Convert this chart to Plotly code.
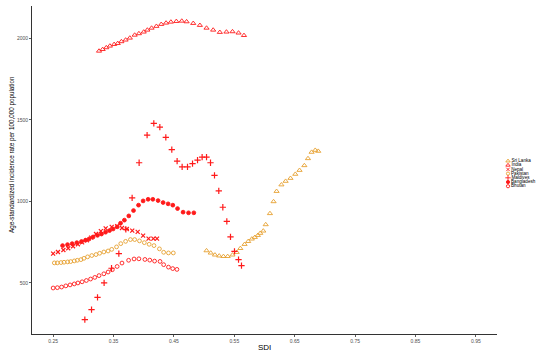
import plotly.graph_objects as go

# ---------------- data ----------------
countries = ["Sri Lanka", "India", "Nepal", "Pakistan", "Maldives", "Bangladesh", "Bhutan"]

sri_lanka_sdi = [0.504, 0.511, 0.518, 0.525, 0.532, 0.539, 0.547, 0.554, 0.560, 0.567,
                 0.573, 0.579, 0.584, 0.589, 0.593, 0.598, 0.602, 0.609, 0.615, 0.620,
                 0.628, 0.635, 0.643, 0.651, 0.658, 0.666, 0.672, 0.678, 0.684, 0.689]
sri_lanka_rate = [698, 684, 672, 666, 663, 663, 672, 688, 712, 737,
                  755, 770, 780, 792, 805, 819, 858, 926, 999, 1062,
                  1102, 1124, 1142, 1167, 1191, 1220, 1263, 1302, 1314, 1308]

india_sdi = [0.326, 0.332, 0.338, 0.344, 0.351, 0.357, 0.363, 0.370, 0.377, 0.385,
             0.392, 0.400, 0.406, 0.413, 0.421, 0.429, 0.437, 0.445, 0.454, 0.463,
             0.471, 0.482, 0.493, 0.504, 0.515, 0.526, 0.537, 0.547, 0.557, 0.566]
india_rate = [1922, 1932, 1943, 1953, 1963, 1969, 1980, 1990, 2002, 2020,
              2029, 2039, 2051, 2063, 2074, 2086, 2094, 2100, 2104, 2106,
              2102, 2092, 2080, 2063, 2051, 2037, 2039, 2041, 2033, 2018]

nepal_sdi = [0.250, 0.258, 0.267, 0.275, 0.283, 0.291, 0.298, 0.306, 0.313, 0.321, 0.329,
             0.337, 0.347, 0.356, 0.364, 0.372, 0.381, 0.390, 0.399, 0.408, 0.416, 0.422]
nepal_rate = [680, 690, 702, 713, 725, 737, 749, 762, 778, 800, 818,
              835, 844, 848, 837, 831, 821, 813, 790, 772, 772, 772]

pakistan_sdi = [0.252, 0.257, 0.263, 0.268, 0.274, 0.279, 0.285, 0.290, 0.296, 0.301,
                0.307, 0.314, 0.321, 0.327, 0.334, 0.341, 0.347, 0.355, 0.362, 0.370,
                0.378, 0.385, 0.393, 0.401, 0.409, 0.417, 0.426, 0.433, 0.441, 0.449]
pakistan_rate = [623, 623, 625, 627, 629, 631, 635, 639, 643, 651,
                 660, 668, 674, 682, 690, 696, 706, 721, 741, 755,
                 766, 766, 758, 747, 737, 729, 709, 688, 684, 684]

maldives_sdi = [0.3025, 0.3136, 0.3235, 0.3344, 0.3467, 0.3588, 0.3704, 0.3808, 0.3924, 0.4056,
                0.4167, 0.4267, 0.4366, 0.4465, 0.4553, 0.4636, 0.4725, 0.4808, 0.4891, 0.4967,
                0.5040, 0.5106, 0.5172, 0.5243, 0.5310, 0.5376, 0.5437, 0.5503, 0.5570, 0.5619]
maldives_rate = [275, 336, 412, 500, 590, 680, 828, 1022, 1237, 1406,
                 1478, 1455, 1392, 1317, 1247, 1212, 1212, 1232, 1253, 1271,
                 1271, 1237, 1159, 1065, 964, 878, 782, 694, 643, 606]

bangladesh_sdi = [0.2656, 0.2738, 0.2815, 0.2892, 0.2970, 0.3036, 0.3096, 0.3162, 0.3235, 0.3301,
                  0.3368, 0.3434, 0.3493, 0.3560, 0.3616, 0.3680, 0.3753, 0.3831, 0.3914, 0.3990,
                  0.4073, 0.4151, 0.4238, 0.4321, 0.4404, 0.4482, 0.4560, 0.4652, 0.4742, 0.4830]
bangladesh_rate = [729, 735, 741, 747, 754, 762, 770, 782, 792, 800,
                   811, 821, 831, 844, 866, 885, 911, 944, 977, 1003,
                   1013, 1013, 1005, 993, 985, 977, 956, 934, 930, 930]

bhutan_sdi = [0.250, 0.257, 0.264, 0.271, 0.278, 0.285, 0.291, 0.298, 0.305, 0.312,
              0.319, 0.326, 0.334, 0.341, 0.348, 0.356, 0.364, 0.375, 0.384, 0.392,
              0.402, 0.410, 0.418, 0.427, 0.433, 0.441, 0.448, 0.455]
bhutan_rate = [469, 471, 475, 482, 488, 494, 500, 507, 515, 524,
               534, 545, 556, 567, 581, 601, 622, 639, 647, 648,
               644, 640, 634, 632, 612, 597, 588, 583]

x_ticks = [0.25, 0.35, 0.45, 0.55, 0.65, 0.75, 0.85, 0.95]
y_ticks = [500, 1000, 1500, 2000]

# ---------------- styles ----------------
RED = "#FF1A1A"
ORANGE = "#E6A030"
series = [
    ("Sri Lanka", sri_lanka_sdi, sri_lanka_rate, "triangle-up-open", ORANGE, 4.5),
    ("India", india_sdi, india_rate, "triangle-up-open", RED, 4.5),
    ("Nepal", nepal_sdi, nepal_rate, "x-thin-open", RED, 4),
    ("Pakistan", pakistan_sdi, pakistan_rate, "circle-open", ORANGE, 3.8),
    ("Maldives", maldives_sdi, maldives_rate, "cross-thin-open", RED, 4.5),
    ("Bangladesh", bangladesh_sdi, bangladesh_rate, "circle", RED, 3.8),
    ("Bhutan", bhutan_sdi, bhutan_rate, "circle-open", RED, 3.8),
]

fig = go.Figure()
for name, xs, ys, sym, col, sz in series:
    lw = 1.2 if "thin" in sym else 0.9
    fig.add_trace(go.Scatter(
        x=xs, y=ys, mode="markers", name=name, showlegend=False,
        marker=dict(symbol=sym, color=col, size=sz, line=dict(color=col, width=lw)),
    ))

# compact legend drawn on its own small axis pair
for i, (name, xs, ys, sym, col, sz) in enumerate(series):
    fig.add_trace(go.Scatter(
        x=[0], y=[-i], xaxis="x2", yaxis="y2", mode="markers+text",
        text=[name], textposition="middle right",
        textfont=dict(size=4.6, color="#000000", family="Liberation Sans"),
        marker=dict(symbol=sym, color=col, size=sz * 0.85, line=dict(color=col, width=0.9)),
        showlegend=False, cliponaxis=False,
    ))

W, H = 550, 356
L, R, T, B = 32, 2, 6, 22
pw, ph = W - L - R, H - T - B

def px_x(p):
    return (p - L) / pw

def px_y(p):
    return (H - B - p) / ph

axis_common = dict(
    showgrid=False, zeroline=False, showline=True, linecolor="#333333", linewidth=1,
    ticks="outside", ticklen=2, tickwidth=0.8, tickcolor="#333333",
    tickfont=dict(size=5, color="#4D4D4D", family="Liberation Sans"),
)

fig.update_layout(
    width=W, height=H,
    margin=dict(l=L, r=R, t=T, b=B),
    paper_bgcolor="white", plot_bgcolor="white",
    showlegend=False,
    font=dict(family="Liberation Sans"),
    xaxis=dict(domain=[0, px_x(497)], range=[0.215, 0.985], tickvals=x_ticks,
               ticktext=[f"{v:.2f}" for v in x_ticks], **axis_common),
    yaxis=dict(range=[187, 2198], tickvals=y_ticks, **axis_common),
    xaxis2=dict(domain=[px_x(500), 1.0], range=[-1, 5], visible=False, anchor="y2"),
    yaxis2=dict(domain=[px_y(195), px_y(155)], range=[-8.09, 1.43], visible=False, anchor="x2"),
    annotations=[
        dict(text="Age-standardized incidence rate per 100,000 population", textangle=-90,
             xref="paper", yref="paper", x=px_x(12), y=px_y(155), showarrow=False,
             xanchor="center", yanchor="middle",
             font=dict(size=6.3, color="#000000", family="Liberation Sans")),
        dict(text="SDI", xref="paper", yref="paper", x=px_x(264), y=px_y(347), showarrow=False,
             xanchor="center", yanchor="middle",
             font=dict(size=8, color="#000000", family="Liberation Sans")),
    ],
)

fig.write_html(
    "out.html",
    config={"staticPlot": True, "displayModeBar": False},
    post_script="document.body.style.margin='0px';document.body.style.overflow='hidden';",
)
